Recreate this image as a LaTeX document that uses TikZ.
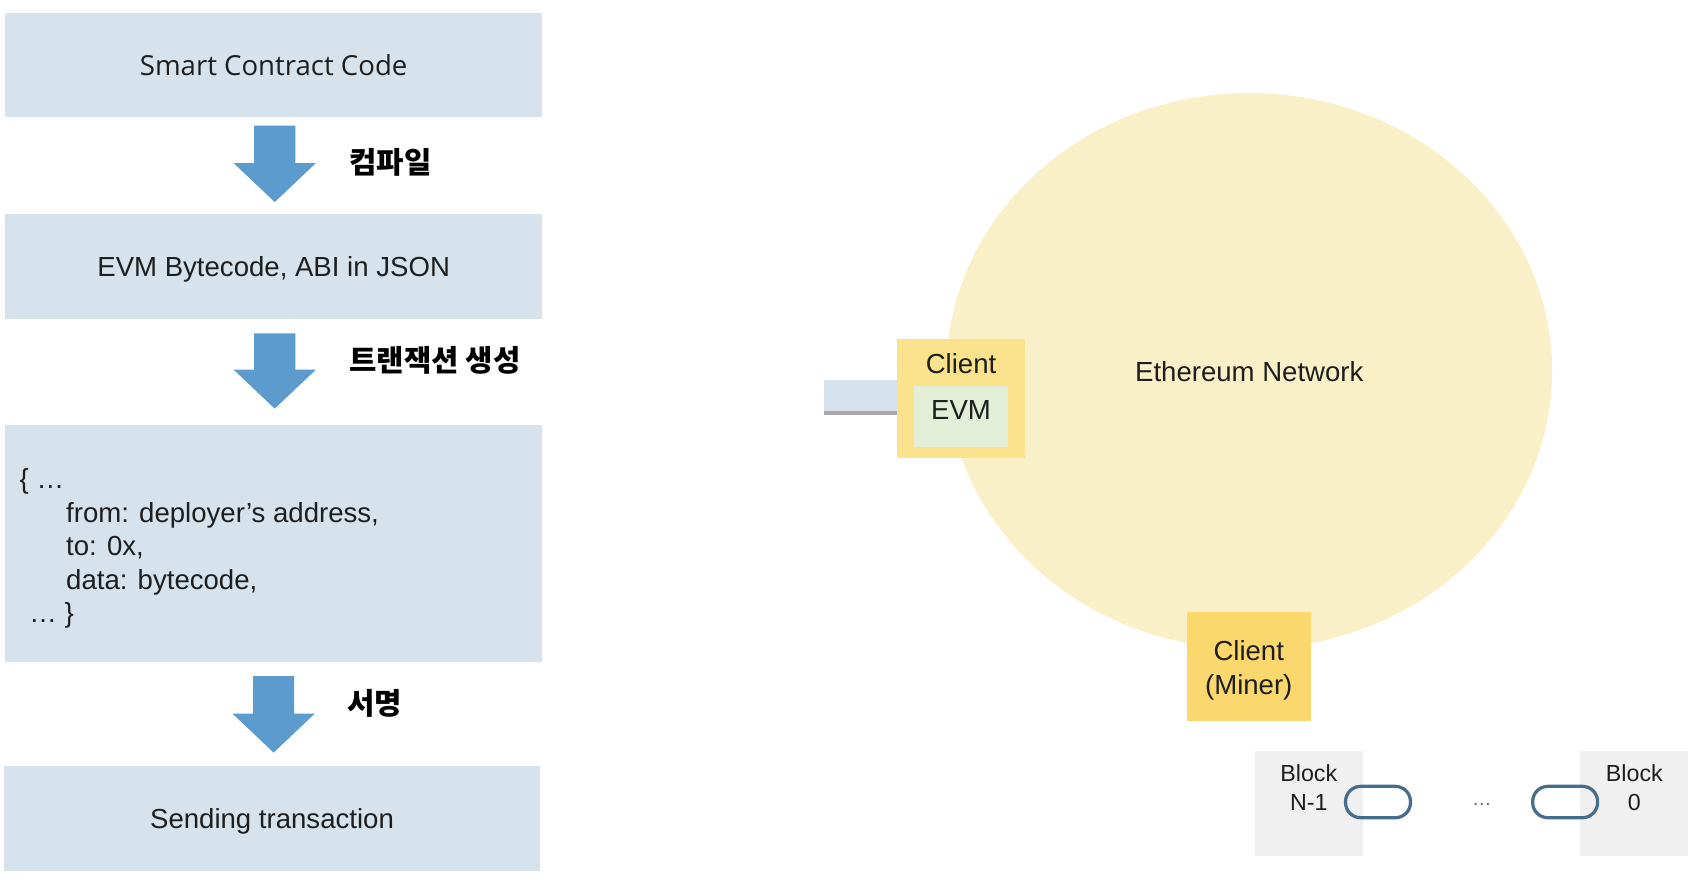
\documentclass[tikz,border=0pt]{standalone}
\usepackage{fontspec}
\setmainfont{Liberation Sans}
\newfontfamily\kr{Noto Sans CJK KR}
\newfontfamily\opensans{Open Sans}
\usetikzlibrary{calc,shapes.geometric,shadows}

\definecolor{boxblue}{RGB}{214,227,236}
\definecolor{arrowblue}{RGB}{91,155,205}
\definecolor{netyellow}{RGB}{250,240,200}
\definecolor{clientyellow}{RGB}{251,226,140}
\definecolor{minergold}{RGB}{250,216,110}
\definecolor{evmgreen}{RGB}{226,238,214}
\definecolor{blockgrey}{RGB}{240,240,240}
\definecolor{linkblue}{RGB}{70,110,140}
\definecolor{textdark}{RGB}{30,30,30}

\newcommand\blockarrow[2]{%
  \fill[arrowblue] ($(#1)+(-19,0)$) -- ($(#1)+(19,0)$) -- ($(#2)+(19,-36)$)
    -- ($(#2)+(38,-36)$) -- (#2) -- ($(#2)+(-38,-36)$) -- ($(#2)+(-19,-36)$) -- cycle;}

\begin{document}
\begin{tikzpicture}[x=1pt,y=-1pt,
  every node/.style={text=textdark},
  stepbox/.style={rectangle, fill=boxblue, minimum width=496pt, inner sep=0pt},
  txt/.style={font=\fontsize{25.5}{31}\selectfont, inner sep=0pt},
  krlabel/.style={font=\kr\bfseries\fontsize{27.5}{33}\selectfont, inner sep=0pt, anchor=west, text=black},
  blocktxt/.style={font=\fontsize{21.5}{27}\selectfont, inner sep=0pt, align=center},
  linkbox/.style={rectangle, rounded corners=14pt, draw=linkblue, line width=3pt, minimum width=60pt, minimum height=29pt, inner sep=0pt},
  blockbox/.style={rectangle, fill=blockgrey, minimum width=100pt, minimum height=97pt, inner sep=0pt}
]
\useasboundingbox[fill=white] (0,0) rectangle (1568,811);

% ---- left column ----
\node[stepbox, minimum height=96pt, font=\opensans\fontsize{25.5}{31}\selectfont] (b1) at (253,60) {Smart Contract Code};
\node[stepbox, minimum height=97pt, txt, text depth=0pt] (b2) at (253,246.5) {EVM Bytecode, ABI in JSON};
\node[stepbox, minimum height=219pt] (b3) at (253,502.5) {};
\node[stepbox, minimum height=97pt, txt, text depth=0pt] (b4) at (251.5,756.5) {Sending transaction};

\node[txt, anchor=north west, align=left] (code) at (18,433) {\{ …\\
\hspace*{43pt}from: deployer’s address,\\
\hspace*{43pt}to: 0x,\\
\hspace*{43pt}data: bytecode,\\
\hspace*{9pt}… \}};

\coordinate (a1s) at ($(b1.south)+(1,8)$);
\coordinate (a1t) at ($(b2.north)+(1,-11)$);
\coordinate (a2s) at ($(b2.south)+(1,13)$);
\coordinate (a2t) at ($(b3.north)+(1,-15)$);
\coordinate (a3s) at ($(b3.south)+(0,13)$);
\coordinate (a3t) at ($(b4.north)+(1.5,-12)$);
\blockarrow{a1s}{a1t}
\blockarrow{a2s}{a2t}
\blockarrow{a3s}{a3t}

\node[krlabel] (l1) at (323,150) {컴파일};
\node[krlabel] (l2) at (323,333) {트랜잭션 생성};
\node[krlabel] (l3) at (321,650) {서명};

% ---- right side ----
\node[ellipse, fill=netyellow, minimum width=560pt, minimum height=514pt, inner sep=0pt] (net) at (1155,343) {};
\node[txt] (nettxt) at (1155,344) {Ethereum Network};

\node[rectangle, fill=boxblue, minimum width=69pt, minimum height=29pt, inner sep=0pt,
      drop shadow={shadow xshift=0pt, shadow yshift=-4pt, opacity=0.45, fill=black!75}] (tx) at (796,365.5) {};

\node[rectangle, fill=clientyellow, minimum width=119pt, minimum height=110pt, inner sep=0pt] (client) at (888.5,368) {};
\node[txt] (clienttxt) at (888.5,336) {Client};
\node[rectangle, fill=evmgreen, minimum width=87pt, minimum height=56pt, inner sep=0pt] (evm) at (888.5,385) {};
\node[txt] (evmtxt) at (888.5,379) {EVM};

\node[rectangle, fill=minergold, minimum width=115pt, minimum height=101pt, inner sep=0pt] (miner) at (1154.5,616.5) {};
\node[txt, align=center] (minertxt) at (1154.5,620) {Client\\(Miner)};

\node[blockbox] (blkn) at (1210,742.5) {};
\node[blocktxt] (blkntxt) at (1210,728) {Block\\N-1};
\node[blockbox] (blk0) at (1511,742.5) {};
\node[blocktxt] (blk0txt) at (1511,728) {Block\\0};

\node[linkbox] (link1) at (1274,741.5) {};
\node[linkbox] (link2) at (1447,741.5) {};
\node[inner sep=0pt, font=\fontsize{18}{20}\selectfont, text=black!60] (dots) at (1370,744) {…};
\end{tikzpicture}
\end{document}
